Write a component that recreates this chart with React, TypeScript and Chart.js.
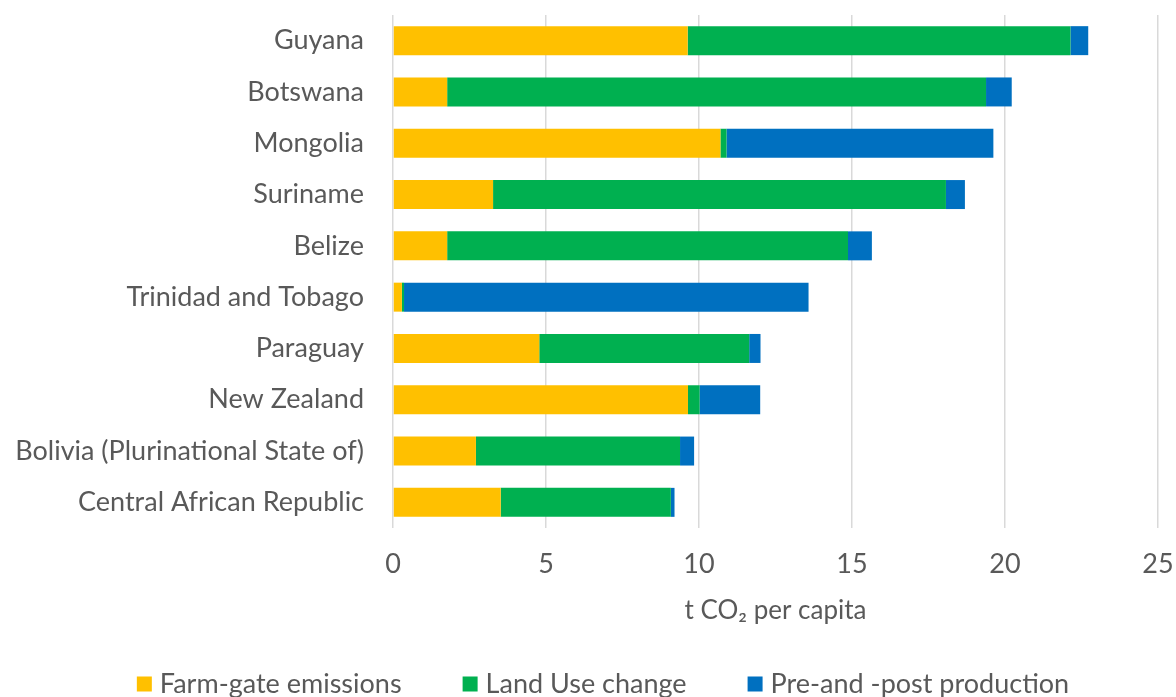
import React, { useEffect, useRef } from "react";
import { Chart, registerables } from "chart.js";

Chart.register(...registerables);

const countries = [
  "Guyana",
  "Botswana",
  "Mongolia",
  "Suriname",
  "Belize",
  "Trinidad and Tobago",
  "Paraguay",
  "New Zealand",
  "Bolivia (Plurinational State of)",
  "Central African Republic",
];

// t CO2 per capita, by emission source
const farmGate = [9.63, 1.77, 10.7, 3.27, 1.77, 0.29, 4.78, 9.64, 2.71, 3.52];
const landUseChange = [12.51, 17.61, 0.2, 14.8, 13.1, 0.07, 6.86, 0.38, 6.67, 5.56];
const prePostProduction = [0.58, 0.84, 8.72, 0.62, 0.78, 13.22, 0.37, 1.98, 0.46, 0.12];

const seriesNames = ["Farm-gate emissions", "Land Use change", "Pre-and -post production"];
const seriesColors = ["#FFC000", "#00B050", "#0070C0"];

const xTicks = [0, 5, 10, 15, 20, 25];

const FONT = "Lato, 'Open Sans', sans-serif";
const TEXT = "#595959";
const FONT_SIZE = 27;

// Legend row drawn under the axis title: square swatch + label per dataset
const legendRow = {
  id: "legendRow",
  afterDraw(chart: any) {
    const ctx = chart.ctx;
    const box = 15;
    const textGap = 8;
    const itemGap = 61;
    const centerX = 603;
    const centerY = 684;
    ctx.save();
    ctx.font = `${FONT_SIZE}px ${FONT}`;
    const items = chart.data.datasets.map((ds: any) => ({
      label: ds.label,
      color: ds.backgroundColor,
      w: ctx.measureText(ds.label).width,
    }));
    const total =
      items.reduce((a: number, it: any) => a + box + textGap + it.w, 0) + itemGap * (items.length - 1);
    let x = centerX - total / 2;
    ctx.textBaseline = "middle";
    ctx.textAlign = "left";
    for (const it of items) {
      ctx.fillStyle = it.color;
      ctx.fillRect(x, centerY - box / 2, box, box);
      ctx.fillStyle = TEXT;
      ctx.fillText(it.label, x + box + textGap, centerY);
      x += box + textGap + it.w + itemGap;
    }
    ctx.restore();
  },
};

export default function App() {
  const canvasRef = useRef<HTMLCanvasElement | null>(null);

  useEffect(() => {
    if (!canvasRef.current) return;
    const series = [farmGate, landUseChange, prePostProduction];
    const chart = new Chart(canvasRef.current, {
      type: "bar",
      data: {
        labels: countries,
        datasets: series.map((data, i) => ({
          label: seriesNames[i],
          data,
          backgroundColor: seriesColors[i],
        })),
      },
      plugins: [legendRow],
      options: {
        indexAxis: "y",
        animation: false,
        responsive: false,
        maintainAspectRatio: false,
        layout: { padding: { top: 15, right: 18, bottom: 71, left: 8 } },
        datasets: {
          bar: { categoryPercentage: 0.565, barPercentage: 1, borderWidth: 0 },
        },
        scales: {
          x: {
            stacked: true,
            min: 0,
            max: 25,
            afterBuildTicks: (s: any) => {
              s.ticks = xTicks.map((v) => ({ value: v }));
            },
            afterFit: (s: any) => {
              s.height = 98;
              s.paddingLeft = 0;
              s.paddingRight = 0;
            },
            grid: { color: "#d9d9d9", lineWidth: 1.5, drawTicks: false },
            border: { display: false },
            ticks: { color: TEXT, font: { family: FONT, size: FONT_SIZE }, padding: 20 },
            title: {
              display: true,
              text: "t CO\u2082 per capita",
              color: TEXT,
              font: { family: FONT, size: 26 },
              padding: { top: 0, bottom: 0 },
            },
          },
          y: {
            stacked: true,
            grid: { display: false },
            border: { display: false },
            ticks: { color: TEXT, font: { family: FONT, size: FONT_SIZE }, padding: 21, autoSkip: false },
            afterFit: (s: any) => {
              s.width = 385;
              s.paddingTop = 0;
              s.paddingBottom = 0;
            },
          },
        },
        plugins: {
          tooltip: { enabled: false },
          legend: { display: false },
        },
      },
    });
    return () => chart.destroy();
  }, []);

  return (
    <div style={{ position: "fixed", left: 0, top: 0, width: 1176, height: 697, background: "#fff" }}>
      <canvas ref={canvasRef} width={1176} height={697} />
    </div>
  );
}
